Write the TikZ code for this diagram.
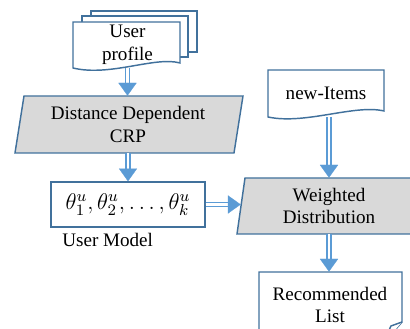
\documentclass[tikz,border=0pt]{standalone}
\usepackage{fix-cm}
\usepackage{fontspec}
\setmainfont{Liberation Serif}
\usetikzlibrary{arrows.meta}
\definecolor{lineblue}{HTML}{41719C}
\definecolor{arrowblue}{HTML}{5B9BD5}
\definecolor{boxgray}{HTML}{D9D9D9}
\tikzset{
  outline/.style={draw=lineblue, line width=0.8pt, fill=white},
  grayshape/.style={draw=lineblue, line width=0.8pt, fill=boxgray},
  txt/.style={align=center, font=\fontsize{10.5}{12.5}\selectfont, inner sep=0pt},
  dblshaft/.style={draw=arrowblue, double=white, double distance=1.5pt, line width=0.8pt, shorten >=5pt},
  dbltip/.style={draw=white, line width=0.1pt, -{Triangle[length=7pt,width=10pt,color=arrowblue]}},
}

\begin{document}
\begin{tikzpicture}[x=0.55pt,y=-0.55pt]
		\useasboundingbox (0,0) rectangle (410,329);
		\clip (0,0) rectangle (410,329);
		% user profile (stack of sheets)
		\draw [outline] (91,11) rectangle (197,52);
		\draw [outline] (82,16) rectangle (188,57);
		\draw [outline] (73,22) -- (180,22) -- (180,63) .. controls (155,56) and (110,77) .. (73,68) -- cycle;
		% new items
		\draw [outline] (268,70) -- (384,70) -- (384,111) .. controls (355,104) and (305,125) .. (268,117) -- cycle;
		% parallelograms
		\draw [grayshape] (24,96) -- (243,96) -- (234,153) -- (15,153) -- cycle;
		\draw [grayshape] (245,178) -- (421,178) -- (413,234) -- (237,234) -- cycle;
		% recommended list
		\draw [outline] (259,272) -- (402,272) -- (402,322) -- (382,345) -- (259,345) -- cycle;
		\draw [outline] (402,322) -- (391,326) -- (382,345);
		% nodes
		\node [txt, minimum width=58.85pt, minimum height=25.3pt] (prof) at (127.5,45) {User\\profile};
		\node [txt, minimum width=121pt, minimum height=31.35pt] (crp) at (128,124.5) {Distance Dependent\\CRP};
		\node [txt, draw=lineblue, line width=0.8pt, minimum width=84.7pt, minimum height=24.75pt,
		       font=\fontsize{12.5}{15}\selectfont] (umod) at (128,204.5) {$\theta_1^u, \theta_2^u, \ldots, \theta_k^u$};
		\node [txt, anchor=west] (umlab) at (62,240) {User Model};
		\node [txt, minimum width=63.8pt, minimum height=25.85pt] (newit) at (326,93.5) {new-Items};
		\node [txt, minimum width=96.8pt, minimum height=30.8pt] (wdist) at (329,206) {Weighted\\Distribution};
		\node [txt, minimum width=78.65pt, minimum height=36.3pt] (recl) at (330,305) {Recommended\\List};
		% arrows
		\draw [dblshaft] (prof.south) -- (prof.south |- crp.north);
		\draw [dbltip] (prof.south) -- (prof.south |- crp.north);
		\draw [dblshaft] (crp.south) -- (crp.south |- umod.north);
		\draw [dbltip] (crp.south) -- (crp.south |- umod.north);
		\draw [dblshaft] (umod.east) -- (umod.east -| wdist.west);
		\draw [dbltip] (umod.east) -- (umod.east -| wdist.west);
		\draw [dblshaft] (wdist.north |- newit.south) -- (wdist.north);
		\draw [dbltip] (wdist.north |- newit.south) -- (wdist.north);
		\draw [dblshaft] (wdist.south) -- (wdist.south |- recl.north);
		\draw [dbltip] (wdist.south) -- (wdist.south |- recl.north);
\end{tikzpicture}
\end{document}
